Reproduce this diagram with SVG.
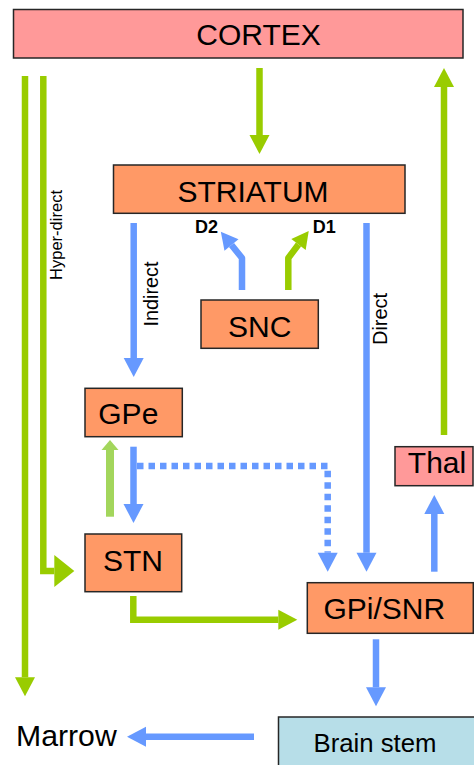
<svg xmlns="http://www.w3.org/2000/svg" width="474" height="765" viewBox="0 0 474 765">
<style>
.box{stroke:#262626;stroke-width:1.5}
.pink{fill:#ff9999}
.orange{fill:#ff9966}
.lblue{fill:#b7dee8}
.t{font-family:"Liberation Sans",Arial,sans-serif;fill:#000}
.g{fill:none;stroke:#99cc00;stroke-width:6.5}
.b{fill:none;stroke:#6699ff;stroke-width:6.5}
</style>
<defs>
<marker id="hg" markerUnits="userSpaceOnUse" markerWidth="20" markerHeight="20" refX="0" refY="10" orient="auto" overflow="visible"><path d="M0,0 L19,10 L0,20 Z" fill="#99cc00"/></marker>
<marker id="hgBig" markerUnits="userSpaceOnUse" markerWidth="20" markerHeight="32" refX="0" refY="16" orient="auto" overflow="visible"><path d="M0,0 L20,16 L0,32 Z" fill="#99cc00"/></marker>
<marker id="hb" markerUnits="userSpaceOnUse" markerWidth="20" markerHeight="20" refX="0" refY="10" orient="auto" overflow="visible"><path d="M0,0 L19,10 L0,20 Z" fill="#6699ff"/></marker>
<marker id="hs" markerUnits="userSpaceOnUse" markerWidth="18" markerHeight="20" refX="0" refY="10" orient="auto" overflow="visible"><path d="M0,1 L17,10 L0,19 Z" fill="#6699ff"/></marker>
<marker id="hsg" markerUnits="userSpaceOnUse" markerWidth="18" markerHeight="20" refX="0" refY="10" orient="auto" overflow="visible"><path d="M0,1 L17,10 L0,19 Z" fill="#99cc00"/></marker>
<marker id="hlg" markerUnits="userSpaceOnUse" markerWidth="10" markerHeight="17" refX="0" refY="8.5" orient="auto" overflow="visible"><path d="M0,0 L10,8.5 L0,17 Z" fill="#a3d65c"/></marker>
</defs>

<g id="connectors">
<path class="g" d="M259.5,68 V135" marker-end="url(#hg)"/>
<path class="g" d="M444,435 V87" marker-end="url(#hg)"/>
<path class="g" d="M25,76 V677.3" marker-end="url(#hg)"/>
<path class="g" d="M43.3,76 V571 H54.3" stroke-linejoin="miter" marker-end="url(#hgBig)"/>
<path class="g" d="M133.3,596 V619.7 H278.3" marker-end="url(#hg)"/>
<path class="b" d="M133.7,223 V358" marker-end="url(#hb)"/>
<path class="b" d="M366.5,223 V552.7" marker-end="url(#hb)"/>
<path class="b" d="M133.5,446.7 V504" marker-end="url(#hb)"/>
<path fill="none" stroke="#a3d65c" stroke-width="8" d="M110,516.7 V450" marker-end="url(#hlg)"/>
<path class="b" d="M137,466 H327.7 V552.7" stroke-dasharray="6.5 5" marker-end="url(#hb)"/>
<path class="b" d="M434.3,571.7 V514" marker-end="url(#hb)"/>
<path class="b" d="M376,639.3 V687.3" marker-end="url(#hb)"/>
<path class="b" d="M254,736.7 H146" marker-end="url(#hb)"/>
<path class="b" d="M242,290 V258 L231.5,245" stroke-linejoin="round" marker-end="url(#hs)"/>
<path class="g" d="M288.3,290 V258 L298.5,244.5" stroke-linejoin="round" marker-end="url(#hsg)"/>
</g>

<g id="cortex">
<rect class="box pink" x="13.5" y="9.5" width="449.5" height="48.5"/>
<text class="t" x="258.5" y="45" font-size="30" text-anchor="middle">CORTEX</text>
</g>
<g id="striatum">
<rect class="box orange" x="113.5" y="165" width="291.5" height="48.3"/>
<text class="t" x="253" y="201.7" font-size="30" text-anchor="middle">STRIATUM</text>
</g>
<g id="snc">
<rect class="box orange" x="201" y="300" width="117.3" height="48.3"/>
<text class="t" x="259.7" y="336.7" font-size="30" text-anchor="middle">SNC</text>
</g>
<g id="gpe">
<rect class="box orange" x="85" y="388.3" width="97.3" height="48.4"/>
<text class="t" x="128.3" y="424" font-size="30" text-anchor="middle">GPe</text>
</g>
<g id="stn">
<rect class="box orange" x="85" y="534" width="96.7" height="57.7"/>
<text class="t" x="133" y="571" font-size="30" text-anchor="middle">STN</text>
</g>
<g id="thal">
<rect class="box pink" x="395" y="446.7" width="78" height="39"/>
<text class="t" x="437" y="472.7" font-size="30" text-anchor="middle">Thal</text>
</g>
<g id="gpi-snr">
<rect class="box orange" x="307.3" y="582.7" width="166" height="50.6"/>
<text class="t" x="384.3" y="619.3" font-size="30" text-anchor="middle">GPi/SNR</text>
</g>
<g id="brain-stem">
<rect class="box lblue" x="278.5" y="717" width="200" height="60"/>
<text class="t" x="375" y="752.3" font-size="25" text-anchor="middle" textLength="123" lengthAdjust="spacingAndGlyphs">Brain stem</text>
</g>
<g id="marrow">
<text class="t" x="16" y="745.7" font-size="30" textLength="100.7" lengthAdjust="spacingAndGlyphs">Marrow</text>
</g>

<g id="labels">
<text class="t" font-size="18" font-weight="bold" x="195" y="233.3">D2</text>
<text class="t" font-size="18" font-weight="bold" x="312.7" y="233.3">D1</text>
<text class="t" font-size="19.5" text-anchor="middle" transform="translate(158.3,294) rotate(-90)" textLength="65" lengthAdjust="spacingAndGlyphs">Indirect</text>
<text class="t" font-size="19.5" text-anchor="middle" transform="translate(386.5,319) rotate(-90)" textLength="52" lengthAdjust="spacingAndGlyphs">Direct</text>
<text class="t" font-size="16.5" text-anchor="middle" transform="translate(61.5,235) rotate(-90)" textLength="90" lengthAdjust="spacingAndGlyphs">Hyper-direct</text>
</g>
</svg>
